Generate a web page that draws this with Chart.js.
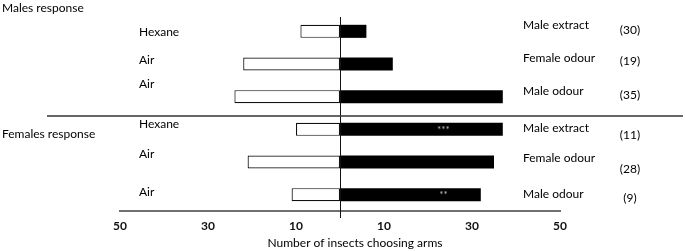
<!DOCTYPE html>
<html>
<head>
<meta charset="utf-8">
<script src="https://cdn.jsdelivr.net/npm/chart.js@4"></script>
<style>
  html, body { margin: 0; padding: 0; background: #fff; }
  #wrap { width: 685px; height: 251px; }
</style>
</head>
<body>
<div id="wrap"><canvas id="choiceChart" width="685" height="251"></canvas></div>
<script>
// rows: 3 male tests then 3 female tests
const controlLabels = ["Hexane", "Air", "Air", "Hexane", "Air", "Air"];
const treatmentLabels = ["Male extract", "Female odour", "Male odour", "Male extract", "Female odour", "Male odour"];
const controlCounts = [9, 22, 24, 10, 21, 11];
const treatmentCounts = [6, 12, 37, 37, 35, 32];
const noChoice = ["(30)", "(19)", "(35)", "(11)", "(28)", "(9)"];
const stars = ["", "", "", "***", "", "**"];
const tickValues = [-50, -30, -10, 10, 30, 50];
const groupLabels = ["Males response", "Females response"];

// small per-row text nudges, to match the original figure
const leftDy = [0.5, -4, -12.5, -5.3, -7.5, -2.5];
const rightDy = [-6.2, -6, -5.2, -1.7, -3.5, -0.5];
const countDy = [-1, -3, -1.8, 6, 7.5, 3.5];

const FONT = "Lato, 'Open Sans', sans-serif";
const rows = controlLabels.map((_, i) => "row" + i);

const annotations = {
    id: "annotations",
    afterDatasetsDraw(chart) {
        const { ctx, scales: { x, y }, chartArea } = chart;
        const zero = x.getPixelForValue(0);
        ctx.save();

        // vertical zero line
        ctx.strokeStyle = "#111";
        ctx.lineWidth = 1;
        ctx.beginPath();
        ctx.moveTo(Math.round(zero) + 0.5, chartArea.top + 2);
        ctx.lineTo(Math.round(zero) + 0.5, chartArea.bottom + 7);
        ctx.stroke();

        // separator between males and females
        const sep = (y.getPixelForValue(2) + y.getPixelForValue(3)) / 2 + 3;
        ctx.strokeStyle = "#333";
        ctx.lineWidth = 1.5;
        ctx.beginPath();
        ctx.moveTo(47, sep);
        ctx.lineTo(683, sep);
        ctx.stroke();

        ctx.fillStyle = "#000";
        ctx.textBaseline = "middle";
        ctx.font = "12px " + FONT;
        ctx.textAlign = "left";
        ctx.fillText(groupLabels[0], 2, 8);
        ctx.fillText(groupLabels[1], 2, 134);

        rows.forEach((r, i) => {
            const cy = y.getPixelForValue(i);
            ctx.textAlign = "left";
            ctx.fillText(controlLabels[i], 139, cy + leftDy[i]);
            ctx.fillText(treatmentLabels[i], 523, cy + rightDy[i]);
            ctx.textAlign = "center";
            ctx.fillText(noChoice[i], 630, cy + countDy[i]);
            if (stars[i]) {
                ctx.save();
                ctx.fillStyle = "#bbb";
                ctx.font = "10px " + FONT;
                ctx.fillText(stars[i], x.getPixelForValue(23.5), cy);
                ctx.restore();
            }
        });

        // axis title
        ctx.textAlign = "center";
        ctx.font = "12px " + FONT;
        ctx.fillText("Number of insects choosing arms", 355, 243);
        ctx.restore();
    }
};

new Chart(document.getElementById("choiceChart"), {
    type: "bar",
    data: {
        labels: rows,
        datasets: [{
            label: "Control arm",
            data: controlCounts.map(v => -v),
            backgroundColor: "#fff",
            borderColor: "#111",
            borderWidth: 1.2,
            borderSkipped: false
        }, {
            label: "Odour arm",
            data: treatmentCounts,
            backgroundColor: "#000",
            borderWidth: 0
        }]
    },
    options: {
        indexAxis: "y",
        responsive: false,
        animation: false,
        layout: { padding: { left: 120, right: 125, top: 15, bottom: 0 } },
        datasets: { bar: { barPercentage: 0.4, categoryPercentage: 1 } },
        plugins: {
            legend: { display: false },
            tooltip: { enabled: false }
        },
        scales: {
            x: {
                stacked: true,
                min: -50,
                max: 50,
                afterBuildTicks: axis => { axis.ticks = tickValues.map(v => ({ value: v })); },
                afterFit: axis => { axis.height = 40; },
                grid: { display: false, drawTicks: false },
                border: { display: true, color: "#707070", width: 2 },
                ticks: {
                    padding: 8,
                    color: "#111",
                    font: { family: FONT, size: 12, weight: "bold" },
                    callback: v => Math.abs(v)
                }
            },
            y: {
                stacked: true,
                display: false
            }
        }
    },
    plugins: [annotations]
});
</script>
</body>
</html>
